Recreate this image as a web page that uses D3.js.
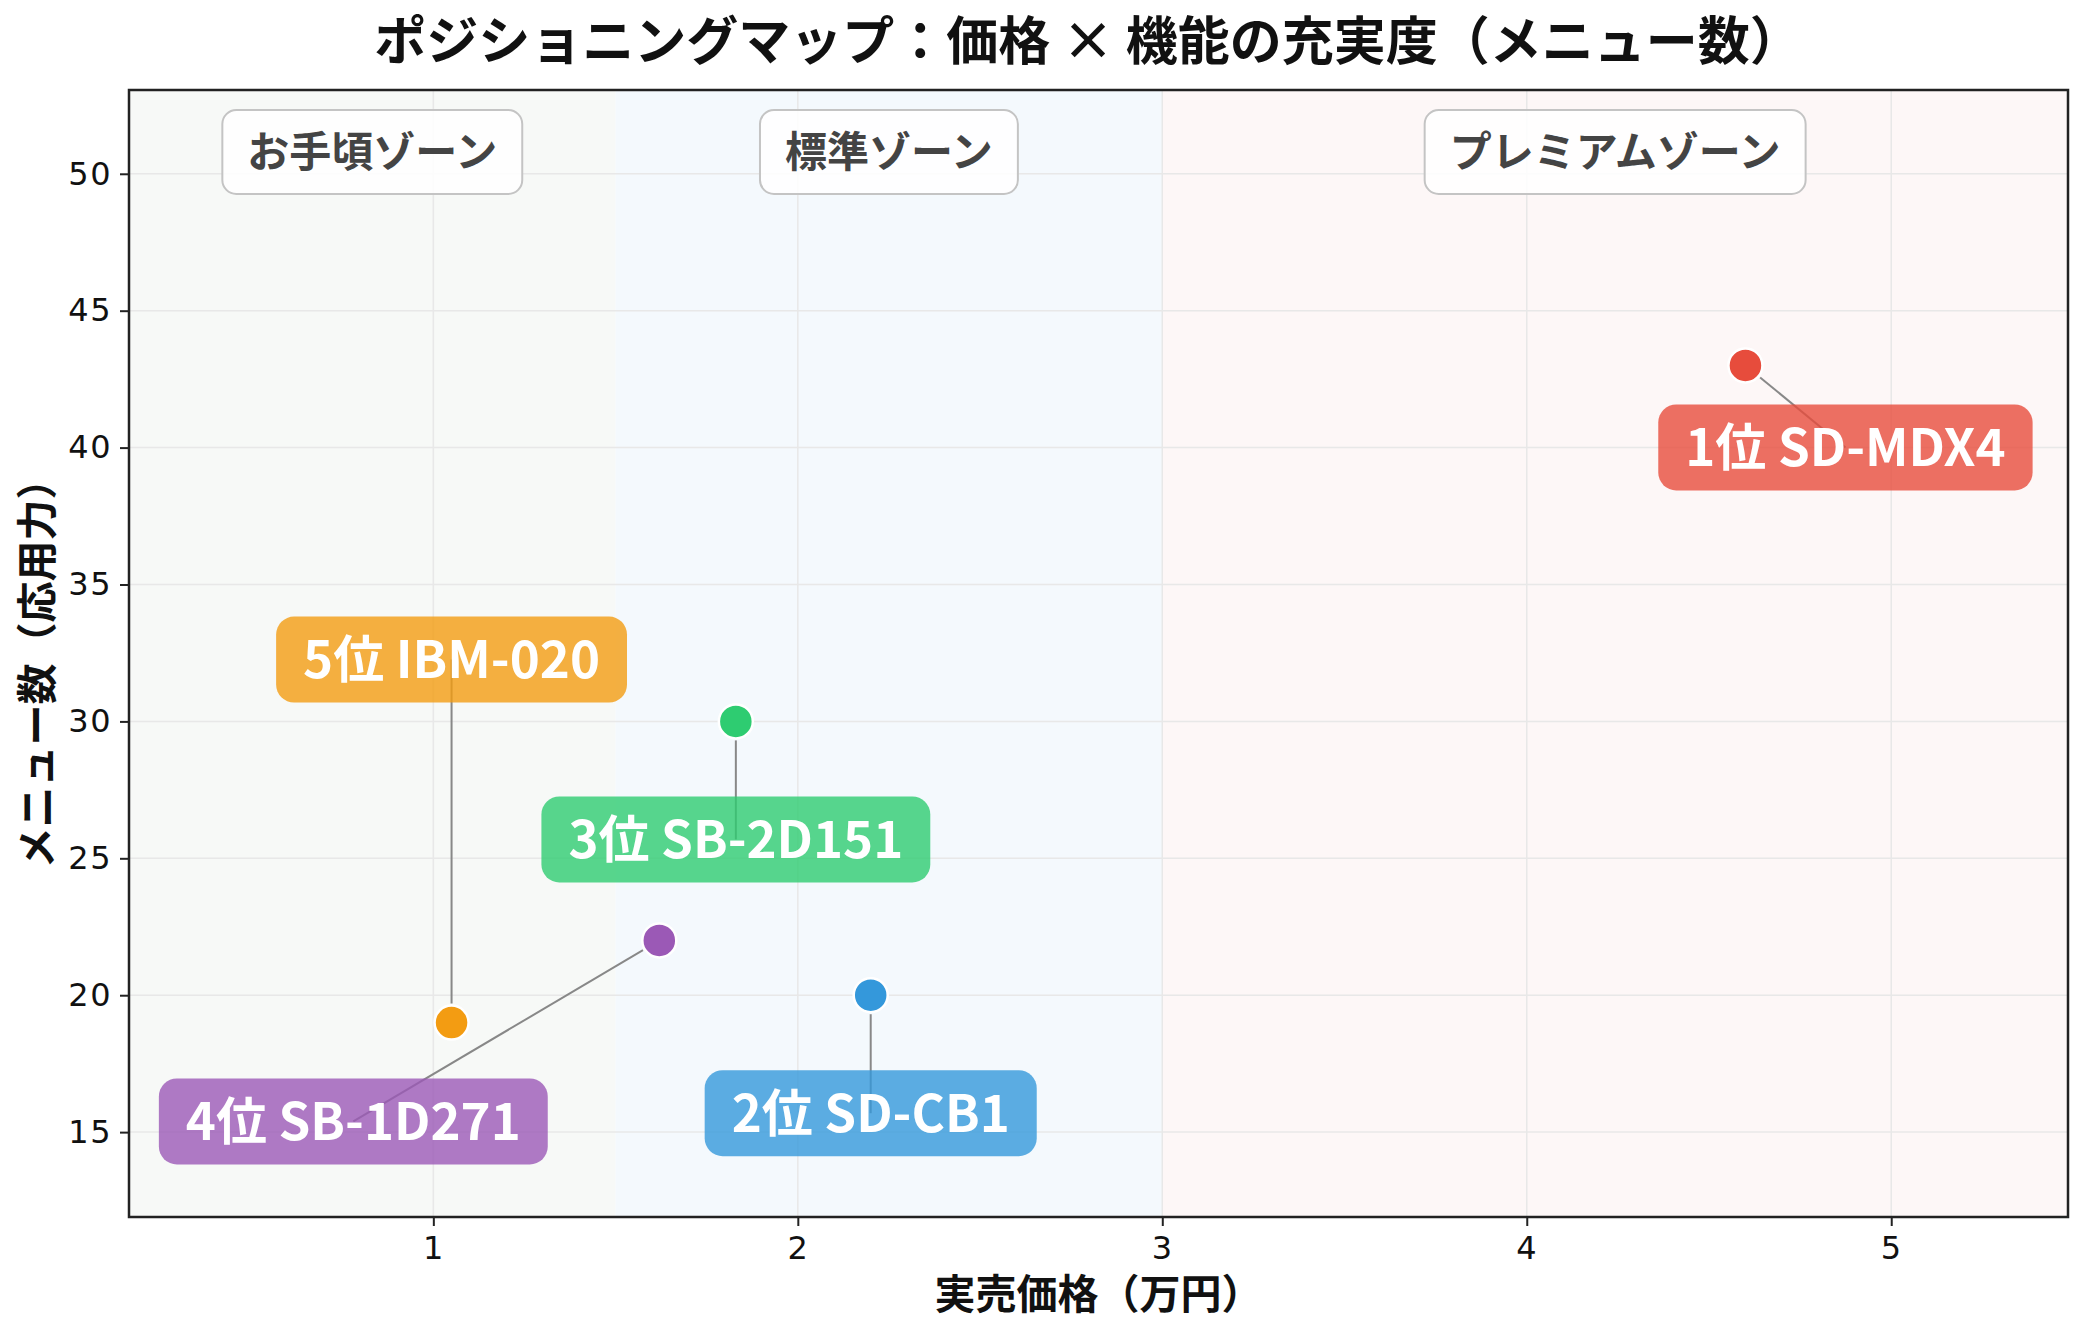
<!DOCTYPE html>
<html>
<head>
<meta charset="utf-8">
<script src="https://cdn.jsdelivr.net/npm/d3@7"></script>
<style>
  body { margin: 0; background: #fff; }
  svg { display: block; }
</style>
</head>
<body>
<svg id="chart" width="2084" height="1334"></svg>
<script>
// data
var products = ["1位 SD-MDX4", "2位 SD-CB1", "3位 SB-2D151", "4位 SB-1D271", "5位 IBM-020"];
var prices = [4.6, 2.2, 1.83, 1.62, 1.05];   // 万円
var menus = [43, 20, 30, 22, 19];
var colors = ["#e74c3c", "#3498db", "#2ecc71", "#9b59b6", "#f39c12"];
var zoneNames = ["お手頃ゾーン", "標準ゾーン", "プレミアムゾーン"];
var zoneBreaks = [1.5, 3];
var zoneColors = ["#f7f9f7", "#f4f9fd", "#fdf7f7"];
var xTicks = [1, 2, 3, 4, 5];
var yTicks = [15, 20, 25, 30, 35, 40, 45, 50];

// label placement, pixel offsets from each point
var labelOffsets = [[100, 82], [0, 118], [0, 118], [-306, 181], [0, -363]];

var svg = d3.select("#chart"),
    margin = {top: 90, right: 16, bottom: 117, left: 129},
    width = 2084 - margin.left - margin.right,
    height = 1334 - margin.top - margin.bottom,
    g = svg.append("g").attr("transform", "translate(" + margin.left + "," + margin.top + ")");

var jp = "'Noto Sans CJK JP', 'Noto Sans', sans-serif";

var x = d3.scaleLinear().domain([0.165, 5.485]).range([0, width]);
var y = d3.scaleLinear().domain([11.9, 53.06]).range([height, 0]);

svg.append("defs").append("clipPath").attr("id", "clip")
  .append("rect").attr("width", width).attr("height", height);

var plot = g.append("g").attr("clip-path", "url(#clip)");

// zones
var edges = [x.domain()[0]].concat(zoneBreaks).concat([x.domain()[1]]);
var zones = zoneNames.map(function(n, i) { return {name: n, x0: edges[i], x1: edges[i + 1], color: zoneColors[i]}; });

plot.selectAll("rect.zone")
  .data(zones)
  .enter().append("rect")
    .attr("class", "zone")
    .attr("x", function(d) { return x(d.x0); })
    .attr("width", function(d) { return x(d.x1) - x(d.x0); })
    .attr("y", 0)
    .attr("height", height)
    .attr("fill", function(d) { return d.color; });

// grid
plot.selectAll("line.gx")
  .data(xTicks)
  .enter().append("line")
    .attr("x1", function(d) { return x(d); })
    .attr("x2", function(d) { return x(d); })
    .attr("y1", 0).attr("y2", height)
    .attr("stroke", "#e8e8e8").attr("stroke-width", 1.5);
plot.selectAll("line.gy")
  .data(yTicks)
  .enter().append("line")
    .attr("y1", function(d) { return y(d); })
    .attr("y2", function(d) { return y(d); })
    .attr("x1", 0).attr("x2", width)
    .attr("stroke", "#e8e8e8").attr("stroke-width", 1.5);

// zone titles
var zoneLabels = plot.selectAll("g.zlabel")
  .data(zones)
  .enter().append("g")
    .attr("class", "zlabel")
    .attr("transform", function(d) { return "translate(" + x((d.x0 + d.x1) / 2) + ",62)"; });
zoneLabels.append("rect");
zoneLabels.append("text")
  .attr("text-anchor", "middle")
  .attr("dy", "0.36em")
  .attr("font-family", jp)
  .attr("font-weight", "bold")
  .attr("font-size", 42)
  .attr("fill", "#444")
  .text(function(d) { return d.name; });
zoneLabels.each(function() {
  var gg = d3.select(this);
  var w = gg.select("text").node().getComputedTextLength() + 50;
  gg.select("rect")
    .attr("x", -w / 2).attr("y", -42)
    .attr("width", w).attr("height", 84)
    .attr("rx", 14).attr("ry", 14)
    .attr("fill", "#fff").attr("fill-opacity", 0.85)
    .attr("stroke", "#c4c4c4").attr("stroke-width", 2);
});

// points + labels
var items = products.map(function(p, i) {
  return {name: p, price: prices[i], menu: menus[i], color: colors[i], off: labelOffsets[i]};
});

var r = 17;

plot.selectAll("line.leader")
  .data(items)
  .enter().append("line")
    .attr("class", "leader")
    .attr("x1", function(d) {
      var len = Math.hypot(d.off[0], d.off[1]);
      return x(d.price) + d.off[0] / len * (r + 2);
    })
    .attr("y1", function(d) {
      var len = Math.hypot(d.off[0], d.off[1]);
      return y(d.menu) + d.off[1] / len * (r + 2);
    })
    .attr("x2", function(d) { return x(d.price) + d.off[0]; })
    .attr("y2", function(d) { return y(d.menu) + d.off[1]; })
    .attr("stroke", "#888").attr("stroke-width", 2);

plot.selectAll("circle.pt")
  .data(items)
  .enter().append("circle")
    .attr("class", "pt")
    .attr("cx", function(d) { return x(d.price); })
    .attr("cy", function(d) { return y(d.menu); })
    .attr("r", r)
    .attr("fill", function(d) { return d.color; })
    .attr("stroke", "#fff").attr("stroke-width", 2.5);

var labels = plot.selectAll("g.plabel")
  .data(items)
  .enter().append("g")
    .attr("class", "plabel")
    .attr("transform", function(d) {
      return "translate(" + (x(d.price) + d.off[0]) + "," + (y(d.menu) + d.off[1]) + ")";
    });
labels.append("rect");
labels.append("text")
  .attr("text-anchor", "middle")
  .attr("dy", "0.36em")
  .attr("font-family", jp)
  .attr("font-weight", "bold")
  .attr("font-size", 51)
  .attr("fill", "#fff")
  .text(function(d) { return d.name; });
labels.each(function(d) {
  var gg = d3.select(this);
  var w = gg.select("text").node().getComputedTextLength() + 54;
  gg.select("rect")
    .attr("x", -w / 2).attr("y", -43)
    .attr("width", w).attr("height", 86)
    .attr("rx", 18).attr("ry", 18)
    .attr("fill", d.color).attr("fill-opacity", 0.8);
});

// axes
var xAxis = g.append("g")
  .attr("transform", "translate(0," + height + ")")
  .call(d3.axisBottom(x).tickValues(xTicks).tickFormat(d3.format("d")).tickSize(9).tickPadding(10));
var yAxis = g.append("g")
  .call(d3.axisLeft(y).tickValues(yTicks).tickFormat(d3.format("d")).tickSize(9).tickPadding(8));
[xAxis, yAxis].forEach(function(a) {
  a.select(".domain").remove();
  a.selectAll(".tick line").attr("stroke", "#222").attr("stroke-width", 2);
  a.selectAll(".tick text")
    .attr("font-family", "'DejaVu Sans', sans-serif")
    .attr("font-size", 32)
    .attr("letter-spacing", 1.5)
    .attr("fill", "#111");
});

// frame
g.append("rect")
  .attr("width", width).attr("height", height)
  .attr("fill", "none").attr("stroke", "#222").attr("stroke-width", 2.5);

// titles
svg.append("text")
  .attr("x", 1088).attr("y", 60)
  .attr("text-anchor", "middle")
  .attr("font-family", jp).attr("font-weight", "bold").attr("font-size", 52)
  .attr("fill", "#111")
  .text("ポジショニングマップ：価格 × 機能の充実度（メニュー数）");

svg.append("text")
  .attr("x", margin.left + width / 2).attr("y", 1294)
  .attr("dy", "0.36em")
  .attr("text-anchor", "middle")
  .attr("font-family", jp).attr("font-weight", "bold").attr("font-size", 41)
  .attr("fill", "#111")
  .text("実売価格（万円）");

svg.append("text")
  .attr("transform", "translate(37," + (margin.top + height / 2 + 10) + ") rotate(-90)")
  .attr("dy", "0.36em")
  .attr("text-anchor", "middle")
  .attr("font-family", jp).attr("font-weight", "bold").attr("font-size", 41)
  .attr("fill", "#111")
  .text("メニュー数（応用力）");
</script>
</body>
</html>
